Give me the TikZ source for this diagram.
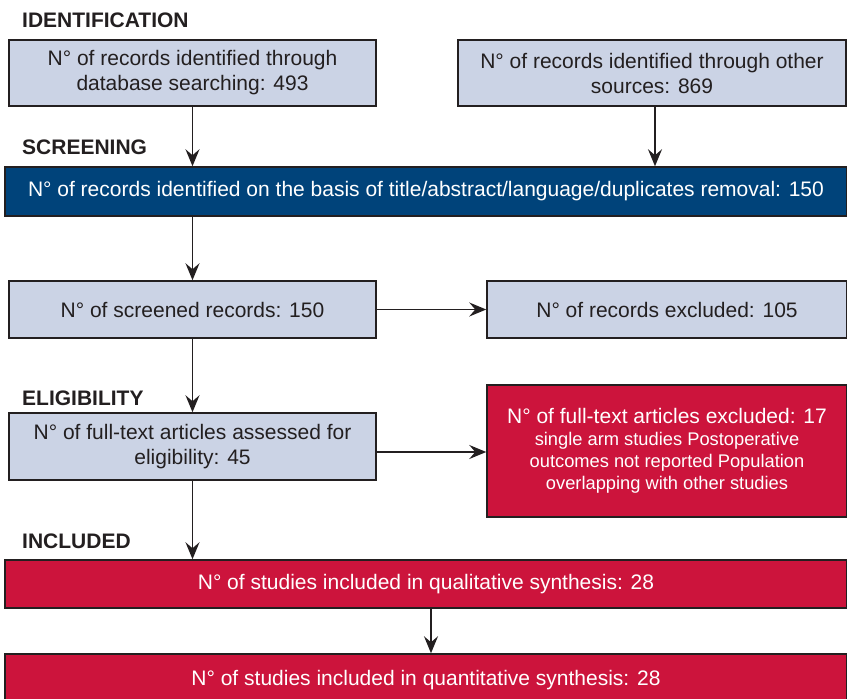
\documentclass[tikz,border=0pt]{standalone}
\usepackage{fontspec}
\setmainfont{Liberation Sans}
\usetikzlibrary{arrows.meta}
\definecolor{prismalight}{HTML}{CBD3E5}
\definecolor{prismanavy}{HTML}{00437A}
\definecolor{prismared}{HTML}{CC143C}
\definecolor{prismaink}{HTML}{231F20}

\begin{document}
\begin{tikzpicture}[x=1pt,y=-1pt,
    box/.style={draw=prismaink,line width=1.5pt,inner sep=0pt,align=center,
                font=\fontsize{21}{25}\selectfont},
    lightbox/.style={box,fill=prismalight,text=prismaink},
    navybox/.style={box,fill=prismanavy,text=white},
    redbox/.style={box,fill=prismared,text=white},
    phase/.style={anchor=west,inner sep=0pt,text=prismaink,font=\bfseries\fontsize{21}{25}\selectfont},
    flow/.style={-{Stealth[length=17pt,width=14pt,inset=6pt]},line width=1.6pt,prismaink}]
  \useasboundingbox (0,0) rectangle (847,699);
  % phase labels
  \node[phase] (lid) at (22,20) {IDENTIFICATION};
  \node[phase] (lsc) at (22,147) {SCREENING};
  \node[phase] (lel) at (22,398) {ELIGIBILITY};
  \node[phase] (lin) at (22,541) {INCLUDED};
  % boxes
  \node[lightbox,minimum width=367pt,minimum height=66pt] (db) at (192.5,73)
        {N° of records identified through\\database searching: 493};
  \node[lightbox,minimum width=388pt,minimum height=66pt] (other) at (652,73)
        {N° of records identified through other\\sources: 869};
  \node[navybox,minimum width=842pt,minimum height=49pt] (title) at (426,191.5)
        {N° of records identified on the basis of title/abstract/language/duplicates removal: 150};
  \node[lightbox,minimum width=367pt,minimum height=57pt] (scr) at (192.5,309.5)
        {N° of screened records: 150};
  \node[lightbox,minimum width=360pt,minimum height=57pt] (exc) at (667,309.5)
        {N° of records excluded: 105};
  \node[lightbox,minimum width=367pt,minimum height=67pt] (full) at (192.5,446.5)
        {N° of full-text articles assessed for\\eligibility: 45};
  \node[redbox,minimum width=360pt,minimum height=132pt,font=\fontsize{18.3}{22}\selectfont] (fexc) at (667,451)
        {{\fontsize{21}{22}\selectfont N° of full-text articles excluded: 17}\\single arm studies Postoperative\\outcomes not reported Population\\overlapping with other studies};
  \node[redbox,minimum width=842pt,minimum height=48pt] (qual) at (426,584)
        {N° of studies included in qualitative synthesis: 28};
  \node[redbox,minimum width=842pt,minimum height=52pt] (quan) at (426,680)
        {N° of studies included in quantitative synthesis: 28};
  % arrows
  \draw[flow] (db.south) -- (db.south |- title.north);
  \draw[flow] ([xshift=3pt]other.south) -- ([xshift=3pt]other.south |- title.north);
  \draw[flow] (db.south |- title.south) -- (scr.north);
  \draw[flow] (scr.east) -- (exc.west);
  \draw[flow] (scr.south) -- (full.north);
  \draw[flow] ([yshift=-5.5pt]full.east) -- ([yshift=-5.5pt]full.east -| fexc.west);
  \draw[flow] (full.south) -- (full.south |- qual.north);
  \draw[flow] ([xshift=5pt]qual.south) -- ([xshift=5pt]qual.south |- quan.north);
\end{tikzpicture}
\end{document}
